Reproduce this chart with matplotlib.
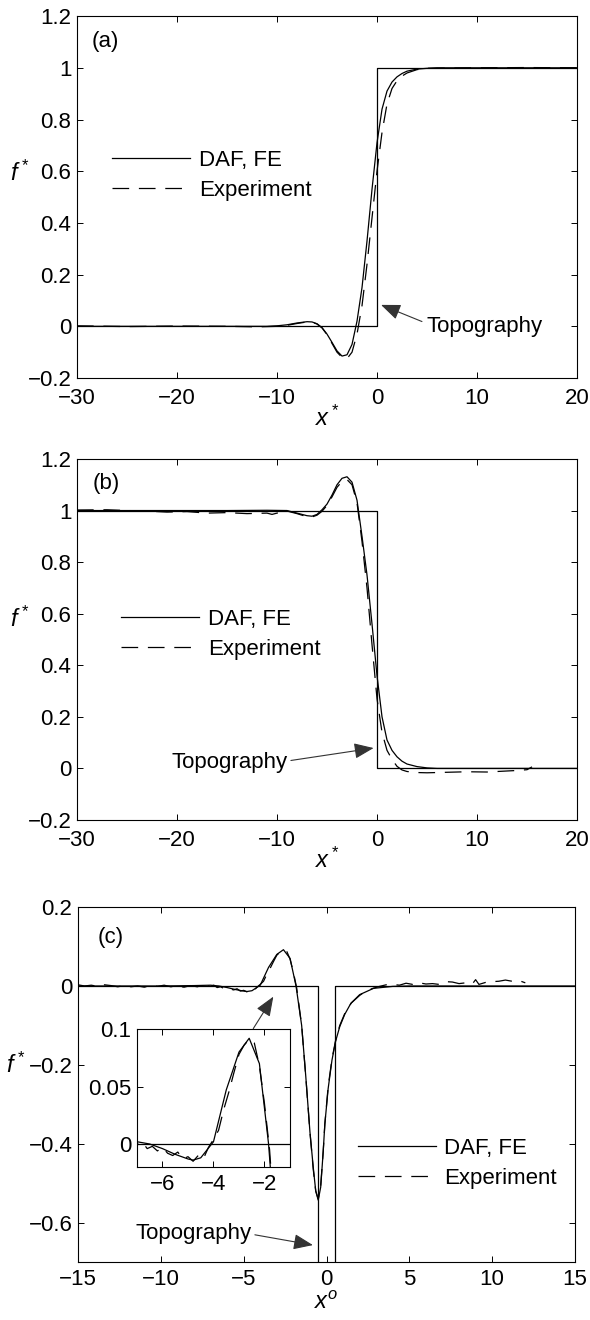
import numpy as np
import matplotlib
matplotlib.use('Agg')
import matplotlib.pyplot as plt

plt.rcParams['font.family'] = ['Liberation Sans', 'DejaVu Sans']
plt.rcParams['mathtext.fontset'] = 'custom'
plt.rcParams['mathtext.it'] = 'Liberation Sans:italic'
plt.rcParams['mathtext.rm'] = 'Liberation Sans'
plt.rcParams['lines.scale_dashes'] = False
FS = 16

# ---------------- data ----------------
# (a) step up
xa_topo = [-30, 0, 0, 20]
ya_topo = [0, 0, 1, 1]
xa_daf = [-30, -15, -11, -10, -9, -8, -7, -6.5, -6, -5.5, -5, -4.5, -4, -3.5, -3,
          -2.5, -2, -1.5, -1, -0.5, 0, 0.5, 1, 1.5, 2, 2.5, 3, 4, 5, 6, 20]
ya_daf = [0, 0, 0, 0.002, 0.006, 0.013, 0.018, 0.017, 0.01, -0.005, -0.03, -0.062,
          -0.095, -0.115, -0.11, -0.07, 0.02, 0.15, 0.33, 0.53, 0.71, 0.84, 0.91,
          0.945, 0.965, 0.978, 0.987, 0.995, 0.998, 1.0, 1.0]
xa_exp = [-30, -25, -20, -15, -12, -10, -9, -8, -7, -6.5, -6, -5.5, -5, -4.5, -4,
          -3.5, -3, -2.5, -2, -1.5, -1, -0.5, 0, 0.5, 1, 1.5, 2, 2.5, 3, 4, 5, 10, 15, 20]
ya_exp = [0.002, -0.001, 0.001, 0, -0.002, 0, 0.004, 0.011, 0.017, 0.016, 0.009,
          -0.006, -0.032, -0.066, -0.1, -0.12, -0.125, -0.1, -0.03, 0.08, 0.24, 0.42,
          0.6, 0.75, 0.86, 0.92, 0.95, 0.968, 0.98, 0.993, 0.998, 1.0, 1.001, 1.0]

# (b) step down
xb_topo = [-30, 0, 0, 20]
yb_topo = [1, 1, 0, 0]
xb_daf = [-30, -15, -11, -9, -8, -7, -6.5, -6, -5.5, -5, -4.5, -4, -3.5, -3, -2.5,
          -2, -1.5, -1, -0.5, 0, 0.5, 1, 1.5, 2, 2.5, 3, 4, 5, 6, 20]
yb_daf = [1, 1, 1.001, 1.0, 0.99, 0.98, 0.978, 0.985, 1.003, 1.025, 1.06, 1.1,
          1.125, 1.131, 1.11, 1.04, 0.9, 0.75, 0.56, 0.36, 0.2, 0.11, 0.07, 0.045,
          0.028, 0.017, 0.007, 0.002, 0.0, 0]
xb_exp = [-30, -27, -25, -23, -21, -19, -17, -15, -13, -11, -10.5, -10, -9, -8, -7,
          -6.5, -6, -5.5, -5, -4.5, -4, -3.5, -3, -2.5, -2, -1.5, -1, -0.5, 0, 0.5,
          1, 1.5, 2, 2.5, 3, 4, 5, 7, 9, 11, 13, 14, 15, 15.5]
yb_exp = [1.002, 1.003, 1.0, 0.998, 0.994, 0.996, 0.99, 0.992, 0.988, 0.99, 0.985,
          0.99, 0.998, 0.988, 0.976, 0.975, 0.982, 0.997, 1.02, 1.053, 1.09, 1.113,
          1.12, 1.1, 1.03, 0.88, 0.7, 0.48, 0.27, 0.14, 0.07, 0.035, 0.008, -0.006,
          -0.012, -0.016, -0.017, -0.015, -0.013, -0.014, -0.01, -0.008, -0.005, 0.006]

# (c) trench
xc_topo = [-15, -0.5, -0.5, 0.5, 0.5, 15]
yc_topo = [0, 0, -1, -1, 0, 0]
xc_daf = [-15, -10, -8, -7, -6.5, -6, -5.5, -5, -4.8, -4.5, -4, -3.5, -3, -2.6,
          -2.2, -1.84, -1.5, -1.25, -1.0, -0.8, -0.65, -0.5, -0.35, -0.2, -0.1, 0.1,
          0.33, 0.55, 0.8, 1.1, 1.47, 2.0, 2.84, 4, 5, 15]
yc_daf = [0, 0, 0.001, 0.002, 0.0, -0.004, -0.009, -0.013, -0.014, -0.012, 0.002,
          0.047, 0.08, 0.092, 0.07, 0.0, -0.1, -0.23, -0.37, -0.46, -0.52, -0.543,
          -0.51, -0.42, -0.35, -0.26, -0.188, -0.14, -0.103, -0.072, -0.044, -0.022,
          -0.006, -0.001, 0, 0]
xc_exp = [-15, -14.6, -14.2, -13.8, -13.4, -13.0, -12.6, -12.2, -11.8, -11.4, -11.0,
          -10.6, -10.2, -9.8, -9.4, -9.0, -8.6, -8.2, -7.8, -7.4, -7.0, -6.8, -6.6,
          -6.4, -6.2, -6.0, -5.8, -5.6, -5.4, -5.2, -5.0, -4.8, -4.6, -4.4, -4.2,
          -4.0, -3.8, -3.6, -3.4, -3.2, -3.0, -2.8, -2.6, -2.4, -2.2, -2.0, -1.8,
          -1.5, -1.25, -1.0, -0.8, -0.65, -0.5, -0.35, -0.2, -0.1, 0.1, 0.33, 0.55,
          0.8, 1.1, 1.5, 2.0, 2.4, 2.8, 3.2, 3.6, 4.0, 4.4, 4.8, 5.2, 5.6, 6.0, 6.4,
          6.8, 7.2, 7.6, 8.0, 8.4, 8.8, 9.0, 9.2, 9.6, 10.0, 10.4, 10.8, 11.2, 11.6, 12.0]
yc_exp = [0.003, 0.0, 0.002, -0.001, 0.003, 0.001, -0.002, 0.001, -0.002, 0.0,
          -0.003, 0.001, -0.001, 0.002, -0.002, 0.0, -0.003, 0.001, -0.002, 0.002,
          -0.001, 0.002, -0.004, -0.002, -0.006, -0.003, -0.008, -0.01, -0.007,
          -0.013, -0.011, -0.015, -0.01, -0.013, -0.003, 0.004, 0.012, 0.03, 0.045,
          0.062, 0.078, 0.086, 0.091, 0.088, 0.068, 0.035, -0.005, -0.1, -0.23,
          -0.37, -0.465, -0.52, -0.54, -0.505, -0.42, -0.35, -0.255, -0.185, -0.138,
          -0.1, -0.07, -0.043, -0.024, -0.012, -0.006, -0.001, 0.003, 0.004, 0.002,
          0.007, 0.004, 0.008, 0.005, 0.006, 0.004, 0.011, 0.01, 0.006, 0.008, 0.005,
          0.016, 0.004, 0.009, 0.011, 0.012, 0.015, 0.012, 0.014, 0.008]

yticks_ab = [-0.2, 0, 0.2, 0.4, 0.6, 0.8, 1, 1.2]
yticklabels_ab = ['\u22120.2', '0', '0.2', '0.4', '0.6', '0.8', '1', '1.2']
xticks_ab = [-30, -20, -10, 0, 10, 20]
xticklabels_ab = ['\u221230', '\u221220', '\u221210', '0', '10', '20']
yticks_c = [-0.6, -0.4, -0.2, 0, 0.2]
yticklabels_c = ['\u22120.6', '\u22120.4', '\u22120.2', '0', '0.2']
xticks_c = [-15, -10, -5, 0, 5, 10, 15]
xticklabels_c = ['\u221215', '\u221210', '\u22125', '0', '5', '10', '15']
xticks_in = [-6, -4, -2]
xticklabels_in = ['\u22126', '\u22124', '\u22122']
yticks_in = [0, 0.05, 0.1]
yticklabels_in = ['0', '0.05', '0.1']

DASH = (12, 7)
LW = 0.9
ARROW = '-|>,head_length=1.0,head_width=0.4'


def style(ax, xpad=7):
    ax.tick_params(direction='in', top=True, right=True, length=4, width=0.7,
                   labelsize=FS)
    ax.tick_params(axis='y', pad=4)
    ax.tick_params(axis='x', pad=xpad)
    for s in ax.spines.values():
        s.set_linewidth(0.8)


def draw(ax, xt, yt, xd, yd, xe, ye):
    ax.plot(xt, yt, color='k', lw=LW)
    l1, = ax.plot(xd, yd, color='k', lw=LW, label='DAF, FE')
    l2, = ax.plot(xe, ye, color='k', lw=LW, dashes=DASH, label='Experiment')
    return [l1, l2]


def add_legend(ax, h, anchor):
    ax.legend(handles=h, loc='upper left', bbox_to_anchor=anchor, frameon=False,
              fontsize=FS, handlelength=3.5, handletextpad=0.4, labelspacing=0.4,
              borderpad=0, borderaxespad=0)


fig = plt.figure(figsize=(5.9, 13.2), dpi=100)

# ---------------- (a) ----------------
ax1 = fig.add_axes([0.1305, 0.7136, 0.8475, 0.2742])
h = draw(ax1, xa_topo, ya_topo, xa_daf, ya_daf, xa_exp, ya_exp)
ax1.set_xlim(-30, 20)
ax1.set_ylim(-0.2, 1.2)
ax1.set_xticks(xticks_ab, xticklabels_ab)
ax1.set_yticks(yticks_ab, yticklabels_ab)
style(ax1)
add_legend(ax1, h, (0.07, 0.63))
ax1.text(0.03, 0.929, '(a)', transform=ax1.transAxes, fontsize=FS, va='center')
ax1.annotate('Topography', xy=(0.4, 0.083), xytext=(4.9, 0.0), fontsize=FS,
             va='center', ha='left',
             arrowprops=dict(arrowstyle=ARROW, color='0.2', lw=0.8, relpos=(0, 0.65),
                             shrinkA=1, shrinkB=0, mutation_scale=12))
ax1.set_xlabel('$x^*$', fontsize=FS + 1, labelpad=-2)
ax1.set_ylabel('$f^*$', fontsize=FS + 1, rotation=0)
ax1.yaxis.set_label_coords(-0.115, 0.53)

# ---------------- (b) ----------------
ax2 = fig.add_axes([0.1305, 0.3788, 0.8475, 0.2735])
h = draw(ax2, xb_topo, yb_topo, xb_daf, yb_daf, xb_exp, yb_exp)
ax2.set_xlim(-30, 20)
ax2.set_ylim(-0.2, 1.2)
ax2.set_xticks(xticks_ab, xticklabels_ab)
ax2.set_yticks(yticks_ab, yticklabels_ab)
style(ax2)
add_legend(ax2, h, (0.088, 0.585))
ax2.text(0.031, 0.933, '(b)', transform=ax2.transAxes, fontsize=FS, va='center')
ax2.annotate('Topography', xy=(-0.34, 0.079), xytext=(-20.5, 0.021), fontsize=FS,
             va='center', ha='left',
             arrowprops=dict(arrowstyle=ARROW, color='0.2', lw=0.8, relpos=(1, 0.6),
                             shrinkA=0, shrinkB=0, mutation_scale=12))
ax2.set_xlabel('$x^*$', fontsize=FS + 1, labelpad=-2)
ax2.set_ylabel('$f^*$', fontsize=FS + 1, rotation=0)
ax2.yaxis.set_label_coords(-0.115, 0.52)

# ---------------- (c) ----------------
ax3 = fig.add_axes([0.1322, 0.0439, 0.8424, 0.2689])
h = draw(ax3, xc_topo, yc_topo, xc_daf, yc_daf, xc_exp, yc_exp)
ax3.set_xlim(-15, 15)
ax3.set_ylim(-0.7, 0.2)
ax3.set_xticks(xticks_c, xticklabels_c)
ax3.set_yticks(yticks_c, yticklabels_c)
style(ax3, xpad=5)
add_legend(ax3, h, (0.563, 0.35))
ax3.text(0.04, 0.915, '(c)', transform=ax3.transAxes, fontsize=FS, va='center')
ax3.annotate('Topography', xy=(-0.82, -0.657), xytext=(-11.5, -0.627), fontsize=FS,
             va='center', ha='left',
             arrowprops=dict(arrowstyle=ARROW, color='0.2', lw=0.8, relpos=(1, 0.45),
                             shrinkA=0, shrinkB=0, mutation_scale=12))
ax3.annotate('', xy=(-3.21, -0.027), xytext=(-4.42, -0.108),
             arrowprops=dict(arrowstyle=ARROW, color='0.2', lw=0.8,
                             shrinkA=0, shrinkB=0, mutation_scale=12))
ax3.set_xlabel('$x^o$', fontsize=FS + 1, labelpad=1)
ax3.set_ylabel('$f^*$', fontsize=FS + 1, rotation=0)
ax3.yaxis.set_label_coords(-0.125, 0.52)

# inset
axi = fig.add_axes([0.2322, 0.1159, 0.2593, 0.1045])
axi.plot(xc_topo, yc_topo, color='k', lw=LW)
axi.plot(xc_daf, yc_daf, color='k', lw=LW)
axi.plot(xc_exp, yc_exp, color='k', lw=LW, dashes=DASH)
axi.set_xlim(-7, -1)
axi.set_ylim(-0.02, 0.1)
axi.set_xticks(xticks_in, xticklabels_in)
axi.set_yticks(yticks_in, yticklabels_in)
style(axi, xpad=5)

fig.savefig('out.png', dpi=100)
